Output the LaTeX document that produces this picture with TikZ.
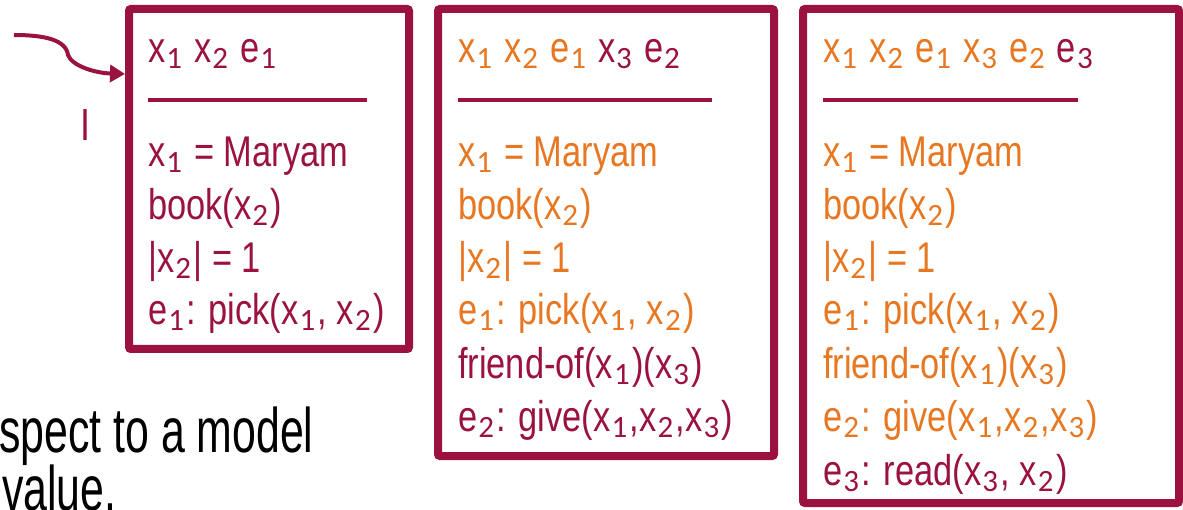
\documentclass[tikz,border=0pt]{standalone}
\usepackage{fontspec}
\setmainfont{Liberation Sans}[FakeStretch=0.80]
\newfontfamily\subfont{Carlito}
\newfontfamily\botfont{Liberation Sans}[FakeStretch=0.68]
\usetikzlibrary{arrows.meta}
\definecolor{drsred}{RGB}{155,17,64}
\definecolor{drsorange}{RGB}{232,119,34}
\newcommand\ssub[1]{\kern1pt\relax\raisebox{-6pt}{\subfont\fontsize{31pt}{31pt}\selectfont #1}\kern2.5pt\relax}
\tikzset{
  drsbox/.style={draw=drsred, line width=8pt, rounded corners=2pt, inner sep=0pt},
  txt/.style={anchor=base west, inner sep=0pt, font=\fontsize{43pt}{43pt}\selectfont},
  sepline/.style={draw=drsred, line width=3.5pt},
  bot/.style={anchor=base west, inner sep=0pt, text=black, font=\botfont\fontsize{63pt}{63pt}\selectfont},
  arr/.style={draw=drsred, line width=4pt, -{Triangle[length=15pt,width=17pt]}}
}
\begin{document}
\begin{tikzpicture}[x=1pt,y=-1pt]
\clip (0,0) rectangle (1183,510);
% boxes
\node[drsbox, minimum width=280pt, minimum height=340pt] (b1) at (269,179) {};
\node[drsbox, minimum width=336pt, minimum height=447pt] (b2) at (606,232.5) {};
\node[drsbox, minimum width=376pt, minimum height=494pt] (b3) at (991,256) {};
% box 1
\node[txt, text=drsred] (b1l0) at (148,63) {x\ssub{1} x\ssub{2} e\ssub{1}};
\draw[sepline] (148,100) -- (367,100);
\node[txt, text=drsred] (b1l1) at (148,167) {x\ssub{1} = Maryam};
\node[txt, text=drsred] (b1l2) at (148,220) {book(x\ssub{2})};
\node[txt, text=drsred] (b1l3) at (148,272.5) {|x\ssub{2}| = 1};
\node[txt, text=drsred] (b1l4) at (148,325) {e\ssub{1}: pick(x\ssub{1}, x\ssub{2})};
% box 2
\node[txt, text=drsorange] (b2l0) at (458,63) {x\ssub{1} x\ssub{2} e\ssub{1} \textcolor{drsred}{x\ssub{3} e\ssub{2}}};
\draw[sepline] (458,100) -- (712,100);
\node[txt, text=drsorange] (b2l1) at (458,167) {x\ssub{1} = Maryam};
\node[txt, text=drsorange] (b2l2) at (458,220) {book(x\ssub{2})};
\node[txt, text=drsorange] (b2l3) at (458,272.5) {|x\ssub{2}| = 1};
\node[txt, text=drsorange] (b2l4) at (458,325) {e\ssub{1}: pick(x\ssub{1}, x\ssub{2})};
\node[txt, text=drsred] (b2l5) at (458,378) {friend-of(x\ssub{1})(x\ssub{3})};
\node[txt, text=drsred] (b2l6) at (458,431) {e\ssub{2}: give(x\ssub{1},x\ssub{2},x\ssub{3})};
% box 3
\node[txt, text=drsorange] (b3l0) at (823,63) {x\ssub{1} x\ssub{2} e\ssub{1} x\ssub{3} e\ssub{2} \textcolor{drsred}{e\ssub{3}}};
\draw[sepline] (823,100) -- (1078,100);
\node[txt, text=drsorange] (b3l1) at (823,167) {x\ssub{1} = Maryam};
\node[txt, text=drsorange] (b3l2) at (823,220) {book(x\ssub{2})};
\node[txt, text=drsorange] (b3l3) at (823,272.5) {|x\ssub{2}| = 1};
\node[txt, text=drsorange] (b3l4) at (823,325) {e\ssub{1}: pick(x\ssub{1}, x\ssub{2})};
\node[txt, text=drsorange] (b3l5) at (823,378) {friend-of(x\ssub{1})(x\ssub{3})};
\node[txt, text=drsorange] (b3l6) at (823,431) {e\ssub{2}: give(x\ssub{1},x\ssub{2},x\ssub{3})};
\node[txt, text=drsred] (b3l7) at (823,485) {e\ssub{3}: read(x\ssub{3}, x\ssub{2})};
% arrow and I
\coordinate (arrs) at (14,35);
\coordinate (arrend) at ([yshift=-69pt]b1.north west);
\draw[arr] (arrs) .. controls (45,35) and (66,40) .. (68,55) .. controls (72,66) and (95,73) .. (arrend);
\node[txt, text=drsred, font=\fontsize{45pt}{45pt}\selectfont] (ilabel) at (80.5,141) {I};
% bottom text
\node[bot] (t1) at (-1,452) {spect to a model};
\node[bot] (t2) at (2,510) {value.};
\end{tikzpicture}
\end{document}
